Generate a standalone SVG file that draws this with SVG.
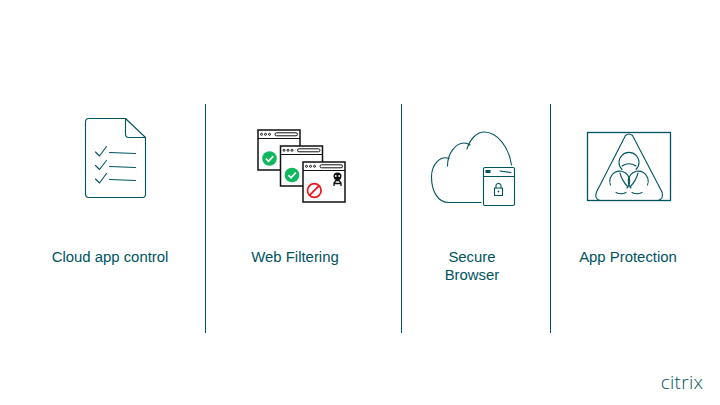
<svg xmlns="http://www.w3.org/2000/svg" width="720" height="405" viewBox="0 0 720 405">
<defs>
<style>
.lbl{font-family:"Liberation Sans",Arial,sans-serif;font-size:14.900px;fill:#00545f;text-anchor:middle}
.t{fill:none;stroke:#00545f;stroke-width:1.100;stroke-linecap:round;stroke-linejoin:round}
.k{fill:#fff;stroke:#111;stroke-width:1.500}
.k2{fill:none;stroke:#111;stroke-width:1}
.div{stroke:#00545f;stroke-width:1}
</style>
<g id="win">
<rect class="k" x="0" y="0" width="42" height="40"/>
<path class="k2" d="M0 8.500H42"/>
<circle class="k2" cx="3.500" cy="4.300" r="1"/><circle class="k2" cx="7.500" cy="4.300" r="1"/><circle class="k2" cx="11.500" cy="4.300" r="1"/>
<rect class="k2" x="17" y="2.800" width="22.500" height="3" rx="1.500"/>
</g>
<g id="ok">
<circle r="7.300" fill="#0fb85f"/>
<path d="M-3.600 0.200L-1 2.800L3.800 -2.400" fill="none" stroke="#fff" stroke-width="1.700"/>
</g>
</defs>
<rect width="720" height="405" fill="#fff"/>
<g id="connectors">
<path class="div" d="M205.500 104V333M401.500 104V333M550.500 104V333"/>
</g>
<g id="cloud-app-control">
<path class="t" d="M125.500 118.500H89Q85.500 118.500 85.500 122V194Q85.500 197.500 89 197.500H142.500Q145.500 197.500 145.500 194V137.500L125.500 118.500V134Q125.500 137.500 129 137.500H145.500"/>
<path class="t" d="M95.500 152L99.500 156L106.500 146.500M95.500 165.500L99.500 169.500L106.500 160.500M95.500 179L99.500 183L106.500 173.500"/>
<path class="t" d="M109.500 152.500L135.500 153.500M109.500 166.500L135.500 167.500M109.500 179.500L135.500 180.500"/>
<text class="lbl" x="110" y="262">Cloud app control</text>
</g>
<g id="web-filtering">
<use href="#win" x="258" y="130"/>
<use href="#ok" x="269.500" y="158.500"/>
<use href="#win" x="280.500" y="146"/>
<use href="#ok" x="292" y="175"/>
<use href="#win" x="303" y="162"/>
<circle cx="314.300" cy="190.500" r="6.800" fill="none" stroke="#f0101c" stroke-width="1.700"/>
<path d="M309.500 195.300L319.100 185.700" stroke="#f0101c" stroke-width="1.700"/>
<path d="M333.500 176Q333.500 172.500 337.500 172.500Q341.500 172.500 341.500 176Q341.500 180 337.500 180.500Q333.500 180 333.500 176Z" fill="#111"/>
<circle cx="335.800" cy="176" r="0.900" fill="#fff"/><circle cx="339.200" cy="176" r="0.900" fill="#fff"/>
<path d="M334 186V183L336 180.500H339L341 183V186M334 183.500H341" fill="none" stroke="#111" stroke-width="1.300"/>
<text class="lbl" x="295" y="262">Web Filtering</text>
</g>
<g id="secure-browser">
<path class="t" d="M481 202.500H449C437 202.500 431.500 190 431.500 177C431.500 165 440 155 449 158.500"/>
<path class="t" d="M447.500 166C447.500 153 456 143 464 143C466 143 468 143.500 470 145"/>
<path class="t" d="M467 149C470 139 477 132 484 132C498 132 509 148 511.500 165"/>
<rect class="t" x="483.500" y="167.500" width="31" height="38" rx="1.500"/>
<path class="t" d="M483.500 176.500H514.500M500 171L511 172.500"/>
<rect x="485.500" y="170" width="5" height="3" fill="#00545f"/>
<rect class="t" x="494.500" y="188" width="8" height="7.500"/>
<path class="t" d="M496 188V185Q498.500 181.500 501 185V188"/>
<circle cx="498.500" cy="191.500" r="0.900" fill="#00545f"/>
<text class="lbl" x="472" y="262">Secure</text>
<text class="lbl" x="472" y="280">Browser</text>
</g>
<g id="app-protection">
<rect x="587.500" y="132.500" width="83" height="68" fill="none" stroke="#00545f" stroke-width="1.300"/>
<path class="t" d="M625.500 135.500Q629 132.500 632.500 135.500L662 192Q664 199 658 200.500H600Q594 199 596.500 192Z"/>
<path class="t" d="M622 169.500A10 10 0 1 1 636 169.500M622 166Q629 161.500 636 166"/>
<path class="t" d="M610.500 185A10 10 0 1 1 627 188M616 192.500Q621 195 626 192.500"/>
<path class="t" d="M647.500 185A10 10 0 1 0 631 188M642 192.500Q637 195 632 192.500"/>
<path class="t" d="M620 173Q622 181 628 187M638 173Q636 181 630 187"/>
<text class="lbl" x="628" y="262">App Protection</text>
</g>
<g id="citrix-logo">
<text x="682" y="389" style="font-family:'Open Sans','Liberation Sans',sans-serif;font-size:19px;fill:#00545f;text-anchor:middle;letter-spacing:.3px;font-weight:300">citrix</text>
</g>
</svg>
